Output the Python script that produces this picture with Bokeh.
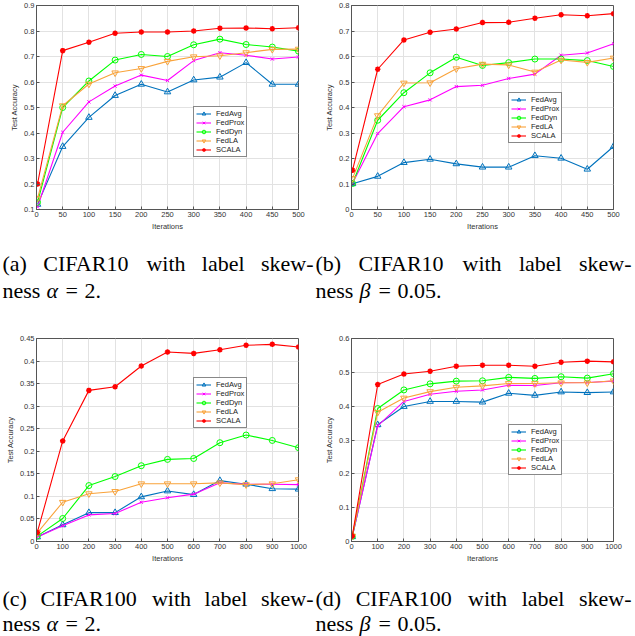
from bokeh.plotting import figure
from bokeh.models import Range1d, FixedTicker, Legend, LegendItem
from bokeh.layouts import column, row
from bokeh.core.properties import value
from bokeh.embed import file_html
from bokeh.resources import INLINE

# ---------------- data ----------------
methods = ["FedAvg", "FedProx", "FedDyn", "FedLA", "SCALA"]

iters_500 = [2, 50, 100, 150, 200, 250, 300, 350, 400, 450, 500]
iters_1000 = [3, 100, 200, 300, 400, 500, 600, 700, 800, 900, 1000]

# (a) CIFAR10, alpha = 2
a_fedavg = [0.120, 0.347, 0.461, 0.547, 0.591, 0.561, 0.608, 0.619, 0.676, 0.591, 0.591]
a_fedprox = [0.110, 0.403, 0.522, 0.584, 0.627, 0.606, 0.684, 0.715, 0.705, 0.690, 0.698]
a_feddyn = [0.128, 0.500, 0.604, 0.686, 0.708, 0.700, 0.746, 0.768, 0.747, 0.737, 0.721]
a_fedla = [0.144, 0.507, 0.592, 0.636, 0.653, 0.681, 0.699, 0.703, 0.715, 0.728, 0.729]
a_scala = [0.200, 0.723, 0.756, 0.791, 0.796, 0.796, 0.800, 0.811, 0.812, 0.809, 0.813]

# (b) CIFAR10, beta = 0.05
b_fedavg = [0.101, 0.130, 0.184, 0.197, 0.179, 0.166, 0.166, 0.211, 0.201, 0.158, 0.247]
b_fedprox = [0.103, 0.298, 0.403, 0.430, 0.482, 0.487, 0.514, 0.531, 0.605, 0.614, 0.650]
b_feddyn = [0.102, 0.350, 0.458, 0.536, 0.597, 0.565, 0.576, 0.590, 0.590, 0.584, 0.561]
b_fedla = [0.122, 0.368, 0.496, 0.497, 0.552, 0.570, 0.567, 0.539, 0.586, 0.577, 0.594]
b_scala = [0.154, 0.550, 0.665, 0.695, 0.708, 0.733, 0.734, 0.750, 0.764, 0.760, 0.768]

# (c) CIFAR100, alpha = 2
c_fedavg = [0.010, 0.037, 0.064, 0.064, 0.099, 0.112, 0.104, 0.135, 0.127, 0.117, 0.116]
c_fedprox = [0.010, 0.035, 0.059, 0.062, 0.087, 0.097, 0.105, 0.130, 0.127, 0.127, 0.126]
c_feddyn = [0.012, 0.051, 0.124, 0.144, 0.168, 0.182, 0.184, 0.219, 0.236, 0.224, 0.208]
c_fedla = [0.019, 0.087, 0.106, 0.111, 0.128, 0.128, 0.128, 0.130, 0.126, 0.128, 0.137]
c_scala = [0.020, 0.223, 0.335, 0.343, 0.389, 0.420, 0.417, 0.425, 0.435, 0.437, 0.431]

# (d) CIFAR100, beta = 0.05
d_fedavg = [0.014, 0.345, 0.399, 0.414, 0.414, 0.412, 0.438, 0.432, 0.442, 0.440, 0.442]
d_fedprox = [0.015, 0.342, 0.414, 0.435, 0.444, 0.448, 0.462, 0.461, 0.469, 0.470, 0.474]
d_feddyn = [0.015, 0.393, 0.448, 0.466, 0.474, 0.475, 0.485, 0.482, 0.487, 0.483, 0.496]
d_fedla = [0.016, 0.382, 0.424, 0.443, 0.456, 0.460, 0.467, 0.467, 0.469, 0.469, 0.475]
d_scala = [0.016, 0.464, 0.495, 0.503, 0.518, 0.521, 0.521, 0.518, 0.530, 0.533, 0.531]

# ticks
x_ticks_500 = [0, 50, 100, 150, 200, 250, 300, 350, 400, 450, 500]
x_labels_500 = ["0", "50", "100", "150", "200", "250", "300", "350", "400", "450", "500"]
x_ticks_1000 = [0, 100, 200, 300, 400, 500, 600, 700, 800, 900, 1000]
x_labels_1000 = ["0", "100", "200", "300", "400", "500", "600", "700", "800", "900", "1000"]
y_ticks_a = [0.1, 0.2, 0.3, 0.4, 0.5, 0.6, 0.7, 0.8, 0.9]
y_labels_a = ["0.1", "0.2", "0.3", "0.4", "0.5", "0.6", "0.7", "0.8", "0.9"]
y_ticks_b = [0.0, 0.1, 0.2, 0.3, 0.4, 0.5, 0.6, 0.7, 0.8]
y_labels_b = ["0", "0.1", "0.2", "0.3", "0.4", "0.5", "0.6", "0.7", "0.8"]
y_ticks_c = [0.0, 0.05, 0.1, 0.15, 0.2, 0.25, 0.3, 0.35, 0.4, 0.45]
y_labels_c = ["0", "0.05", "0.1", "0.15", "0.2", "0.25", "0.3", "0.35", "0.4", "0.45"]
y_ticks_d = [0.0, 0.1, 0.2, 0.3, 0.4, 0.5, 0.6]
y_labels_d = ["0", "0.1", "0.2", "0.3", "0.4", "0.5", "0.6"]

captions_l1 = [["(a)", "CIFAR10", "with", "label", "skew-"],
               ["(b)", "CIFAR10", "with", "label", "skew-"],
               ["(c)", "CIFAR100", "with", "label", "skew-"],
               ["(d)", "CIFAR100", "with", "label", "skew-"]]
captions_sym = ["α", "β", "α", "β"]
captions_val = ["2.", "0.05.", "2.", "0.05."]

# ---------------- style ----------------
STY = {
    "FedAvg": dict(color="#0072BD", marker="triangle", size=6.5, fill=None, lw=1.0),
    "FedProx": dict(color="#FF00FF", marker="x", size=4.5, fill=None, lw=1.0),
    "FedDyn": dict(color="#00FF00", marker="circle", size=6, fill=None, lw=1.0),
    "FedLA": dict(color="#F9A33A", marker="inverted_triangle", size=6.5, fill=None, lw=1.0),
    "SCALA": dict(color="#FF0000", marker="asterisk", size=5.5, fill="#FF0000", lw=1.6),
}
AX = "#555555"
TXT = "#333333"
SANS = "Liberation Sans"
SERIF = "Liberation Serif"


def panel(xs, series, xmax, ylo, yhi, xt, xl, yt, yl, leg_xy, width, bl, br, height, bt, bb):
    p = figure(width=width, height=height, x_range=Range1d(0, xmax), y_range=Range1d(ylo, yhi),
               output_backend="svg", toolbar_location=None,
               min_border_left=bl, min_border_right=br, min_border_top=bt, min_border_bottom=bb)
    p.background_fill_color = "white"
    p.border_fill_color = "white"
    p.outline_line_color = AX
    p.outline_line_width = 1
    p.xaxis.ticker = FixedTicker(ticks=xt)
    p.yaxis.ticker = FixedTicker(ticks=yt)
    p.xaxis.major_label_overrides = dict(zip(xt, xl))
    p.yaxis.major_label_overrides = dict(zip(yt, yl))
    p.xaxis.axis_label = "Iterations"
    p.yaxis.axis_label = "Test Accuracy"
    for ax in (p.xaxis, p.yaxis):
        ax.axis_line_color = AX
        ax.major_tick_line_color = AX
        ax.major_tick_in = 3
        ax.major_tick_out = 0
        ax.minor_tick_line_color = None
        ax.major_label_text_font = SANS
        ax.major_label_text_font_size = "7.5px"
        ax.major_label_text_color = TXT
        ax.major_label_standoff = 2
        ax.axis_label_text_font = SANS
        ax.axis_label_text_font_size = "7.5px"
        ax.axis_label_text_font_style = "normal"
        ax.axis_label_text_color = TXT
        ax.axis_label_standoff = 2
    p.grid.grid_line_color = "#E2E2E2"
    p.grid.grid_line_width = 1
    items = []
    for name, ys in zip(methods, series):
        s = STY[name]
        lr = p.line(xs, ys, line_color=s["color"], line_width=1.1)
        sr = p.scatter(xs, ys, marker=s["marker"], size=s["size"], line_color=s["color"],
                       fill_color=s["fill"], line_width=s["lw"])
        items.append(LegendItem(label=name, renderers=[lr, sr]))
    leg = Legend(items=items, location=leg_xy)
    leg.border_line_color = "#111111"
    leg.border_line_width = 1
    leg.background_fill_color = "white"
    leg.background_fill_alpha = 1.0
    leg.padding = 2
    leg.spacing = 0
    leg.margin = 0
    leg.label_height = 9
    leg.glyph_height = 9
    leg.glyph_width = 15
    leg.label_standoff = 5
    leg.label_text_font = SANS
    leg.label_text_font_size = "7.5px"
    leg.label_text_color = "#222222"
    p.add_layout(leg)
    return p


fa = panel(iters_500, [a_fedavg, a_fedprox, a_feddyn, a_fedla, a_scala], 500, 0.1, 0.9,
           x_ticks_500, x_labels_500, y_ticks_a, y_labels_a, (157, 52), 315, 36, 17, 233, 5, 22)
fb = panel(iters_500, [b_fedavg, b_fedprox, b_feddyn, b_fedla, b_scala], 500, 0.0, 0.8,
           x_ticks_500, x_labels_500, y_ticks_b, y_labels_b, (157, 66), 318, 36, 20, 233, 5, 22)
fc = panel(iters_1000, [c_fedavg, c_fedprox, c_feddyn, c_fedla, c_scala], 1000, 0.0, 0.45,
           x_ticks_1000, x_labels_1000, y_ticks_c, y_labels_c, (157, 113), 315, 36, 17, 232, 5, 22)
fd = panel(iters_1000, [d_fedavg, d_fedprox, d_feddyn, d_fedla, d_scala], 1000, 0.0, 0.6,
           x_ticks_1000, x_labels_1000, y_ticks_d, y_labels_d, (157, 66), 318, 36, 20, 232, 5, 22)

# ---------------- captions ----------------
EM = {"(": .333, ")": .333, "a": .444, "b": .5, "c": .444, "d": .5, "C": .667, "I": .333,
      "F": .556, "A": .722, "R": .667, "1": .5, "0": .5, "w": .722, "i": .278, "t": .278,
      "h": .5, "l": .278, "e": .444, "s": .389, "k": .5, "-": .333}
CAP_FS = 22


def word_w(w):
    return sum(EM.get(ch, .5) for ch in w) * CAP_FS


def caption_fig(height, y1, y2, idx_pair):
    W = 633
    p = figure(width=W, height=height, x_range=Range1d(0, W), y_range=Range1d(0, height),
               x_axis_type=None, y_axis_type=None, output_backend="svg", toolbar_location=None,
               min_border=0)
    p.outline_line_color = None
    p.grid.visible = False
    cols = [(2, 313), (315, 631)]
    for (x0, x1), idx in zip(cols, idx_pair):
        words = captions_l1[idx]
        widths = [word_w(w) for w in words]
        gap = (x1 - x0 - sum(widths)) / (len(words) - 1)
        xs, cur = [], x0
        for wd in widths:
            xs.append(cur)
            cur += wd + gap
        p.text(x=xs, y=[y1] * len(words), text=words, text_font=value(SERIF),
               text_font_size=f"{CAP_FS}px", text_baseline="middle", text_align="left",
               text_color="black")
        p.text(x=[x0, x0 + 63, x0 + 82], y=[y2] * 3, text=["ness", "=", captions_val[idx]],
               text_font=value(SERIF), text_font_size=f"{CAP_FS}px", text_baseline="middle",
               text_align="left", text_color="black")
        p.text(x=[x0 + 44], y=[y2], text=[captions_sym[idx]], text_font=value(SERIF),
               text_font_style="italic", text_font_size=f"{CAP_FS}px", text_baseline="middle",
               text_align="left", text_color="black")
    return p


# cap1 spans y 233..333, cap2 spans y 565..636
cap1 = caption_fig(100, 70, 43, (0, 1))
cap2 = caption_fig(71, 38, 13, (2, 3))

layout = column(row(fa, fb), cap1, row(fc, fd), cap2)
open("out.html", "w").write(file_html(layout, INLINE))
